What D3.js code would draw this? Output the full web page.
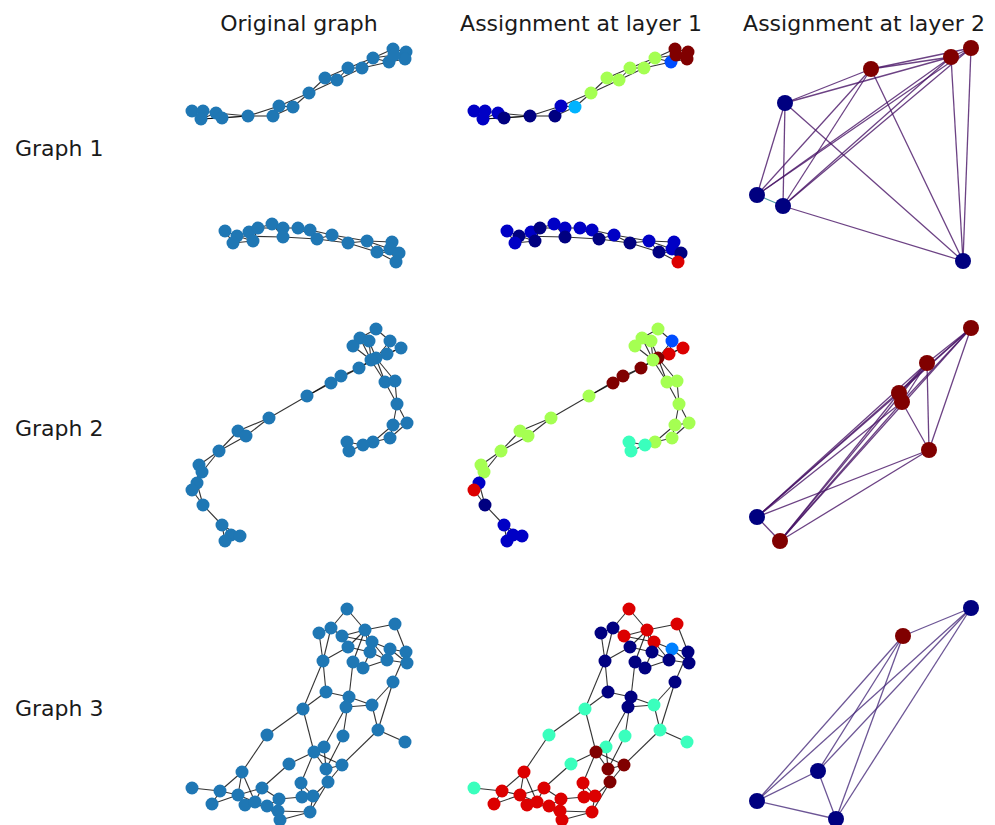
<!DOCTYPE html>
<html lang="en">
<head>
<meta charset="UTF-8">
<title>Graph pooling assignments</title>
<script src="https://d3js.org/d3.v7.min.js"></script>
<style>
  body { margin: 0; background: #fff; }
  text { font-family: "DejaVu Sans", sans-serif; fill: #1a1a1a; }
</style>
</head>
<body>
<script>
// column titles and row labels
const colTitles = ['Original graph', 'Assignment at layer 1', 'Assignment at layer 2']
const rowLabels = ['Graph 1', 'Graph 2', 'Graph 3']

// ---- graph 1: layout x, layout y, cluster value (jet) ----
const g1X = [12,23,21,36,42,68,93,99,113,129,145,157,168,182,193,209,213,226,225,214,
             45,57,53,69,73,78,92,103,103,118,130,137,152,168,187,197,212,210,219,216]
const g1Y = [76,76,84,78,83,81,81,71,72,58,43,45,33,33,23,27,14,17,24,20,
             196,201,208,197,206,193,189,193,202,193,195,204,200,208,206,217,207,214,218,227]
const g1C = [0.06,0.06,0.06,0.06,0,0,0,0.06,0.3,0.55,0.55,0.55,0.55,0.55,0.55,0.2,1,1,1,1,
             0.06,0,0.06,0.06,0,0,0.06,0.06,0,0.06,0.06,0,0.06,0,0.06,0,0.06,0.06,0,0.92]
const g1E = [[0,1],[0,2],[1,2],[1,3],[2,3],[2,4],[3,4],[3,5],[4,5],[2,5],[5,6],[5,7],[6,7],[6,8],
             [7,8],[7,9],[8,9],[9,10],[9,11],[10,11],[10,12],[11,12],[11,13],[12,13],[12,14],
             [13,14],[13,15],[14,15],[14,16],[14,19],[15,16],[15,17],[16,17],[16,18],[17,18],
             [15,18],[19,17],[19,16],
             [20,21],[20,22],[21,22],[21,23],[21,24],[22,24],[23,24],[23,25],[24,25],[25,26],
             [25,27],[21,28],[26,27],[26,28],[27,28],[27,29],[28,31],[29,30],[29,31],[30,31],
             [30,32],[31,32],[31,33],[32,33],[32,34],[33,34],[33,35],[34,35],[34,36],[34,37],
             [35,37],[35,38],[36,37],[36,38],[37,38],[37,39],[38,39],[35,39]]

// ---- graph 2 ----
const g2X = [196,180,189,173,210,221,207,196,191,179,161,151,127,89,58,66,39,19,22,17,12,23,42,51,60,45,
             205,215,217,213,227,210,193,183,167,169]
const g2Y = [14,23,26,31,26,33,39,43,45,53,61,68,81,103,116,121,136,150,157,168,175,190,210,220,221,226,
             67,66,89,110,108,123,127,130,127,136]
const g2C = [0.55,0.55,0.55,0.55,0.2,0.92,0.92,1,0.55,1,1,1,0.55,0.55,0.55,0.55,0.55,0.55,0.55,0.06,0.92,0,
             0.06,0.06,0.06,0.06,
             0.55,0.55,0.55,0.55,0.55,0.55,0.55,0.42,0.42,0.42]
const g2E = [[0,1],[0,4],[1,3],[1,2],[3,8],[1,8],[2,8],[2,7],[4,6],[4,7],[5,6],[6,7],[5,7],[7,8],[8,9],
             [7,9],[9,10],[10,11],[9,11],[11,12],[10,12],[12,13],[13,14],[13,15],[14,15],[14,16],
             [15,16],[16,17],[16,18],[17,18],[17,19],[18,19],[19,20],[19,21],[20,21],[21,22],
             [22,23],[22,25],[23,24],[23,25],[22,24],
             [7,26],[8,26],[7,27],[26,27],[26,28],[27,28],[28,29],[28,30],[29,30],[29,31],[30,31],
             [29,32],[31,32],[32,33],[33,34],[34,35],[33,35]]

// ---- graph 3 ----
const g3X = [167,151,139,162,185,215,192,168,190,210,226,207,227,143,173,183,213,146,169,166,192,123,
             198,225,87,163,144,134,162,146,109,62,148,121,12,40,82,58,32,65,75,99,122,133,87,98,130,100]
const g3Y = [14,33,38,41,35,29,47,52,57,54,57,65,68,66,67,73,87,97,102,112,110,114,
             135,147,140,141,152,157,170,174,169,177,187,188,193,196,193,200,209,210,207,204,202,
             201,211,216,217,225]
const g3C = [0.92,0,0,0.92,0.92,0.92,0.92,0,0,0.25,0,0,0,0,0,0,0,0,0,0,0.42,0.42,
             0.42,0.42,0.42,0.42,0.42,1,1,1,0.42,0.92,1,0.92,0.42,0.92,0.92,0.92,0.92,0.92,0.92,
             0.92,0.92,0.92,0.92,0.92,0.92,0.92]
const g3E = [[0,1],[0,4],[1,2],[1,3],[2,13],[1,13],[3,4],[3,6],[3,7],[4,5],[4,6],[4,7],[4,8],[4,14],
             [5,10],[6,9],[6,8],[6,11],[7,13],[7,8],[8,11],[8,15],[9,10],[9,12],[9,11],[10,12],
             [10,16],[11,12],[11,15],[13,17],[13,21],[14,18],[14,15],[16,20],[16,22],[17,18],
             [17,21],[18,19],[18,20],[19,20],[19,26],[18,25],[25,29],[21,24],[21,27],[22,23],
             [22,20],[22,28],[24,31],[26,27],[26,29],[27,28],[27,29],[27,30],[27,33],[28,29],
             [28,32],[29,32],[30,36],[31,35],[31,37],[31,40],[34,35],[35,38],[35,37],[36,40],
             [36,41],[36,37],[37,39],[37,40],[38,37],[39,44],[40,44],[41,45],[41,42],[41,44],
             [42,43],[42,33],[33,43],[32,43],[32,46],[43,46],[44,45],[45,47],[45,46],[47,46],[44,47]]

// ---- pooled graphs at layer 2 ----
const p1X = [45,131,211,231,17,43,223], p1Y = [68,34,22,13,160,171,226]
const p1C = [0,1,1,1,0,0,0]
const p1E = [[0,1],[0,2],[0,4],[0,5],[0,6],[1,2],[1,3],[1,4],[1,5],[1,6],[2,3],[2,4],[2,5],[2,6],
             [3,6],[3,4],[3,5],[4,5],[5,6]]
const p1W = [0.05,0.05,0.05,0.05,0.05,0.05,0.05,0.05,0.05,0.05,0.05,0.05,0.05,0.05,
             0.05,0.05,0.05,0.45,0.05]
const p2X = [231,187,159,162,189,17,40], p2Y = [13,48,78,87,135,202,226]
const p2C = [1,1,1,1,1,0,1]
const p2E = [[0,1],[0,2],[0,3],[0,4],[0,5],[0,6],[1,2],[1,3],[1,4],[1,5],[1,6],[2,5],[2,6],[3,4],
             [3,5],[3,6],[4,5],[4,6],[5,6],[2,3]]
const p2W = p2E.map(() => 0.05)
const p3X = [231,163,78,17,96], p3Y = [13,41,176,206,224]
const p3C = [0,1,0,0,0]
const p3E = [[0,1],[0,2],[0,3],[0,4],[1,2],[1,3],[1,4],[2,3],[2,4],[3,4]]
const p3W = p3E.map(() => 0.12)

const width = 995, height = 825
const colLeft = [180, 462, 740]
const titleX = [299, 581, 864]
const rowTop = [35, 315, 595]

// matplotlib jet colormap
const jetR = d3.scaleLinear().domain([0, 0.35, 0.66, 0.89, 1]).range([0, 0, 1, 1, 0.5]).clamp(true)
const jetG = d3.scaleLinear().domain([0, 0.125, 0.375, 0.64, 0.91, 1]).range([0, 0, 1, 1, 0, 0]).clamp(true)
const jetB = d3.scaleLinear().domain([0, 0.11, 0.34, 0.65, 1]).range([0.5, 1, 1, 0, 0]).clamp(true)
const jet = v => d3.rgb(jetR(v) * 255, jetG(v) * 255, jetB(v) * 255).toString()

const svg = d3.select('body').append('svg').attr('width', width).attr('height', height)

svg.append('g').selectAll('text')
    .data(colTitles)
    .join('text')
    .attr('x', (d, i) => titleX[i])
    .attr('y', 31)
    .attr('text-anchor', 'middle')
    .style('font-size', '22px')
    .text(d => d)

svg.append('g').selectAll('text')
    .data(rowLabels)
    .join('text')
    .attr('x', 15)
    .attr('y', (d, i) => rowTop[i] + 121)
    .style('font-size', '22px')
    .text(d => d)

function drawGraph(col, row, xs, ys, cs, edges, opts) {
    const x = d3.scaleLinear().domain([0, 240]).range([colLeft[col], colLeft[col] + 240])
    const y = d3.scaleLinear().domain([0, 240]).range([rowTop[row], rowTop[row] + 240])
    const g = svg.append('g')
    g.selectAll('line')
        .data(edges)
        .join('line')
        .attr('x1', d => x(xs[d[0]]))
        .attr('y1', d => y(ys[d[0]]))
        .attr('x2', d => x(xs[d[1]]))
        .attr('y2', d => y(ys[d[1]]))
        .attr('stroke', (d, i) => opts.weights ? d3.interpolateViridis(opts.weights[i]) : '#000')
        .attr('stroke-opacity', opts.weights ? 0.8 : 0.8)
        .attr('stroke-width', opts.weights ? 1.3 : 1.1)
    g.selectAll('circle')
        .data(xs)
        .join('circle')
        .attr('cx', d => x(d))
        .attr('cy', (d, i) => y(ys[i]))
        .attr('r', opts.r)
        .attr('fill', (d, i) => cs ? jet(cs[i]) : '#1f77b4')
}

const graphs = [
    [g1X, g1Y, g1C, g1E],
    [g2X, g2Y, g2C, g2E],
    [g3X, g3Y, g3C, g3E]
]
graphs.forEach((gr, row) => {
    drawGraph(0, row, gr[0], gr[1], null, gr[3], { r: 6.5 })
    drawGraph(1, row, gr[0], gr[1], gr[2], gr[3], { r: 6.5 })
})

const pooled = [
    [p1X, p1Y, p1C, p1E, p1W],
    [p2X, p2Y, p2C, p2E, p2W],
    [p3X, p3Y, p3C, p3E, p3W]
]
pooled.forEach((gr, row) => {
    drawGraph(2, row, gr[0], gr[1], gr[2], gr[3], { r: 8, weights: gr[4] })
})
</script>
</body>
</html>
